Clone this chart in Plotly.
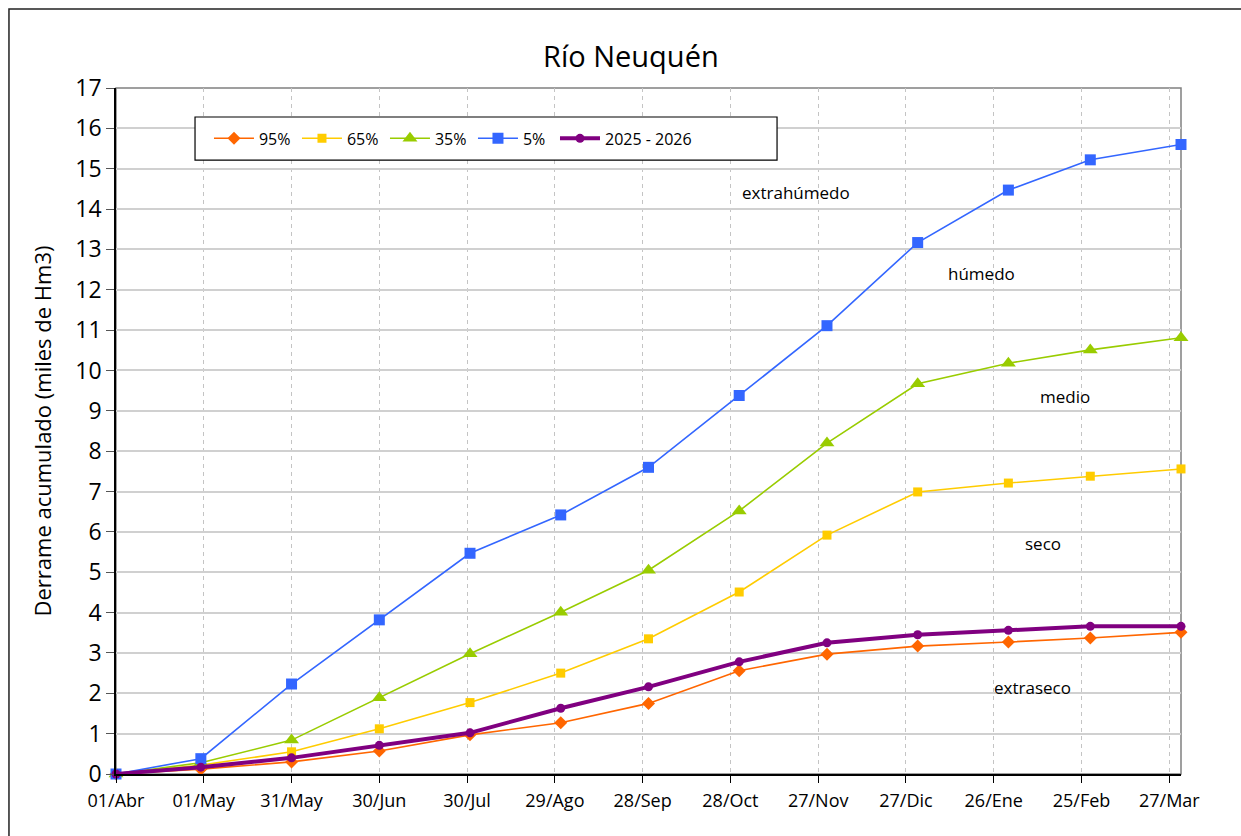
import plotly.graph_objects as go

# Fechas de cierre de cada mes (acumulado desde el 1 de abril)
fechas = ["2025-04-01", "2025-04-30", "2025-05-31", "2025-06-30", "2025-07-31",
          "2025-08-31", "2025-09-30", "2025-10-31", "2025-11-30", "2025-12-31",
          "2026-01-31", "2026-02-28", "2026-03-31"]

# Derrame acumulado (miles de Hm3) por probabilidad de excedencia
p95 = [0, 0.12, 0.30, 0.57, 0.97, 1.27, 1.75, 2.56, 2.97, 3.17, 3.27, 3.37, 3.51]
p65 = [0, 0.22, 0.55, 1.12, 1.77, 2.50, 3.35, 4.51, 5.92, 6.99, 7.21, 7.38, 7.56]
p35 = [0, 0.28, 0.84, 1.89, 2.98, 4.01, 5.05, 6.52, 8.20, 9.67, 10.18, 10.51, 10.81]
p05 = [0, 0.38, 2.23, 3.82, 5.47, 6.42, 7.60, 9.38, 11.11, 13.17, 14.47, 15.22, 15.60]
actual = [0, 0.17, 0.40, 0.71, 1.02, 1.63, 2.16, 2.78, 3.25, 3.45, 3.56, 3.66, 3.66]

# Marcas del eje de tiempo (cada 30 días)
tick_fechas = ["2025-04-01", "2025-05-01", "2025-05-31", "2025-06-30", "2025-07-30",
               "2025-08-29", "2025-09-28", "2025-10-28", "2025-11-27", "2025-12-27",
               "2026-01-26", "2026-02-25", "2026-03-27"]
tick_textos = ["01/Abr", "01/May", "31/May", "30/Jun", "30/Jul", "29/Ago", "28/Sep",
               "28/Oct", "27/Nov", "27/Dic", "26/Ene", "25/Feb", "27/Mar"]

# Etiquetas de las franjas de año hidrológico
zonas = ["extrahúmedo", "húmedo", "medio", "seco", "extraseco"]
zonas_pos = [(0.6385, 0.847), (0.8131, 0.7289), (0.8911, 0.551), (0.8704, 0.3367), (0.8601, 0.1254)]

FONT = "Tahoma, Open Sans, sans-serif"

# nombre, valores, color, símbolo, tamaño, ancho de línea, leyenda
series = [
    ("95%", p95, "#FF6600", "diamond", 10, 1.6, "legend"),
    ("65%", p65, "#FFCC00", "square", 9, 1.6, "legend"),
    ("35%", p35, "#99CC00", "triangle-up", 13, 1.6, "legend"),
    ("5%", p05, "#3366FF", "square", 11, 1.6, "legend"),
    ("2025 - 2026", actual, "#800080", "circle", 9, 4, "legend2"),
]

fig = go.Figure()
for nombre, vals, color, simbolo, tam, ancho, ley in series:
    fig.add_trace(go.Scatter(
        x=fechas, y=vals, name=nombre, mode="lines+markers",
        line=dict(color=color, width=ancho),
        marker=dict(color=color, symbol=simbolo, size=tam, line=dict(width=0)),
        cliponaxis=False, legend=ley,
    ))

for texto, (px, py) in zip(zonas, zonas_pos):
    fig.add_annotation(x=px, y=py, xref="paper", yref="paper", text=texto,
                       xanchor="center", yanchor="middle", showarrow=False,
                       font=dict(family=FONT, size=17, color="black"))

# Título
fig.add_annotation(x=0.4836, y=1.048, xref="paper", yref="paper", text="Río Neuquén",
                   xanchor="center", yanchor="middle", showarrow=False,
                   font=dict(family=FONT, size=29, color="black"))

# Marco del área de trazado, recuadro de la leyenda y marco exterior
fig.add_shape(type="rect", xref="paper", yref="paper", x0=0, y0=0, x1=1, y1=1,
              line=dict(color="#808080", width=1.5), layer="below")
fig.add_shape(type="rect", xref="paper", yref="paper", x0=0.0742, y0=0.895, x1=0.6207, y1=0.9577,
              line=dict(color="black", width=1.2), fillcolor="white", layer="above")
fig.add_shape(type="rect", xref="paper", yref="paper", x0=-0.1005, y0=-0.12, x1=1.2, y1=1.1152,
              line=dict(color="#222222", width=1.5))

leyenda_base = dict(
    orientation="h", y=0.9265, xanchor="left", yanchor="middle",
    borderwidth=0, bgcolor="rgba(0,0,0,0)",
    font=dict(family=FONT, size=16, color="black"),
    itemwidth=40,
)

fig.update_layout(
    width=1241, height=836,
    margin=dict(l=116, r=60, t=88, b=62),
    paper_bgcolor="white", plot_bgcolor="white",
    font=dict(family=FONT, color="black"),
    showlegend=True,
    legend=dict(x=0.0873, entrywidth=33, **leyenda_base),
    legend2=dict(x=0.4122, **leyenda_base),
)

fig.update_xaxes(
    type="date", range=["2025-04-01", "2026-03-31"],
    tickmode="array", tickvals=tick_fechas, ticktext=tick_textos,
    ticks="outside", ticklen=7, tickcolor="black",
    tickfont=dict(family=FONT, size=18, color="black"),
    ticklabelstandoff=3,
    showgrid=True, gridcolor="#C4C4C4", griddash="4px,4px", gridwidth=1,
    showline=True, linecolor="black", linewidth=1.5,
    zeroline=False,
)
fig.update_yaxes(
    range=[0, 17], dtick=1, tick0=0,
    ticks="outside", ticklen=8, tickcolor="#555555",
    tickfont=dict(family=FONT, size=23, color="black"),
    showgrid=True, gridcolor="#D0D0D0", gridwidth=1.5,
    showline=True, linecolor="black", linewidth=1.5,
    zeroline=False,
    title=dict(text="Derrame acumulado (miles de Hm3)", standoff=18,
               font=dict(family=FONT, size=22, color="black")),
)

fig.write_html("out.html")
